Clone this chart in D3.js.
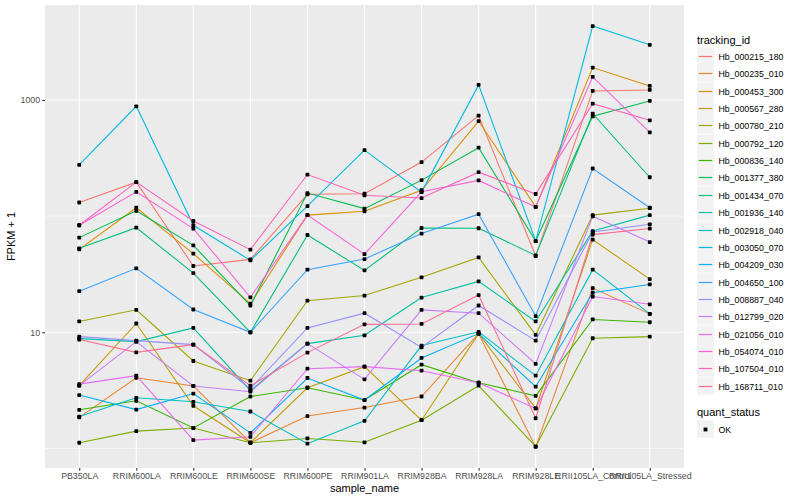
<!DOCTYPE html>
<html lang="en">
<head>
<meta charset="UTF-8">
<title>FPKM + 1 by sample</title>
<script src="https://d3js.org/d3.v7.min.js"></script>
<style>
  body { margin: 0; background: #fff; }
  svg { display: block; font-family: 'Liberation Sans', Arial, sans-serif; }
  .axis text { font-size: 8.8px; fill: #4d4d4d; }
  .axis line { stroke: #333; stroke-width: 1.07; }
  .axis path { display: none; }
  .axis-title { font-size: 11px; fill: #000; }
  .legend-title { font-size: 11px; fill: #000; }
  .legend-label { font-size: 8.8px; fill: #000; }
  .series { fill: none; stroke-width: 1.07; }
</style>
</head>
<body>
<svg width="800" height="500"></svg>
<script>
const samples = ["PB350LA", "RRIM600LA", "RRIM600LE", "RRIM600SE", "RRIM600PE", "RRIM901LA",
  "RRIM928BA", "RRIM928LA", "RRIM928LE", "RRII105LA_Control", "RRII105LA_Stressed"];

const trackingIds = ["Hb_000215_180", "Hb_000235_010", "Hb_000453_300", "Hb_000567_280", "Hb_000780_210",
  "Hb_000792_120", "Hb_000836_140", "Hb_001377_380", "Hb_001434_070", "Hb_001936_140",
  "Hb_002918_040", "Hb_003050_070", "Hb_004209_030", "Hb_004650_100", "Hb_008887_040",
  "Hb_012799_020", "Hb_021056_010", "Hb_054074_010", "Hb_107504_010", "Hb_168711_010"];

// FPKM + 1, one value per sample
const hb000215_180 = [131, 196, 37.2, 42.4, 154, 156, 292, 732, 45.3, 1196, 1220];
const hb000235_010 = [1.85, 4.06, 3.45, 1.12, 1.90, 2.25, 2.80, 9.74, 1.03, 24.0, 14.4];
const hb000453_300 = [51.7, 118, 47.5, 17.6, 102, 110, 167, 658, 120, 1900, 1321];
const hb000567_280 = [3.47, 11.9, 2.33, 1.12, 3.33, 5.06, 1.75, 9.74, 2.21, 62.7, 28.7];
const hb000780_210 = [12.4, 15.6, 5.66, 3.83, 18.7, 20.7, 29.7, 44.1, 9.49, 102, 117];
const hb000792_120 = [1.12, 1.41, 1.50, 1.12, 1.22, 1.13, 1.75, 3.47, 1.04, 8.88, 9.18];
const hb000836_140 = [2.15, 2.57, 1.50, 2.80, 3.33, 2.61, 5.26, 3.68, 2.84, 12.9, 12.2];
const hb001377_380 = [65.3, 111, 56.0, 17.0, 158, 116, 204, 388, 61.0, 723, 980];
const hb001434_070 = [52.8, 79.6, 32.3, 10.0, 68.8, 34.1, 79.0, 78.6, 45.9, 762, 216];
const hb001936_140 = [8.82, 8.31, 10.9, 3.14, 7.99, 9.42, 19.9, 27.4, 12.4, 74.4, 102];
const hb002918_040 = [1.88, 2.73, 2.52, 2.08, 1.10, 1.73, 7.68, 10.1, 4.23, 34.6, 14.4];
const hb003050_070 = [276, 882, 83.4, 41.6, 122, 370, 161, 1348, 61.0, 4327, 2984];
const hb004209_030 = [2.88, 2.16, 2.97, 1.36, 4.04, 2.61, 6.01, 9.74, 3.40, 21.9, 25.8];
const hb004650_100 = [22.6, 35.5, 15.7, 10.0, 34.6, 42.7, 70.7, 104, 13.8, 257, 118];
const hb008887_040 = [9.18, 8.48, 7.83, 3.27, 10.9, 14.6, 7.42, 17.0, 8.48, 73.0, 85.0];
const hb012799_020 = [3.47, 8.31, 3.45, 3.08, 7.99, 3.93, 15.6, 14.6, 5.34, 99.7, 59.8];
const hb021056_010 = [3.58, 4.23, 1.18, 1.26, 4.86, 5.06, 4.67, 3.68, 2.21, 20.3, 17.4];
const hb054074_010 = [83.4, 162, 78.1, 20.0, 102, 47.1, 162, 203, 120, 1579, 526];
const hb107504_010 = [83.4, 196, 90.8, 51.4, 228, 151, 143, 239, 155, 929, 668];
const hb168711_010 = [8.65, 6.72, 7.83, 3.47, 6.68, 11.7, 11.8, 20.9, 1.82, 69.3, 78.1];

const seriesValues = [hb000215_180, hb000235_010, hb000453_300, hb000567_280, hb000780_210,
  hb000792_120, hb000836_140, hb001377_380, hb001434_070, hb001936_140,
  hb002918_040, hb003050_070, hb004209_030, hb004650_100, hb008887_040,
  hb012799_020, hb021056_010, hb054074_010, hb107504_010, hb168711_010];

const yMajor = [10, 1000];
const yMinor = [1, 100, 10000];
const quantStatus = ["OK"];

// ggplot default hue palette for 20 levels
const palette = ["#F8766D", "#EA8331", "#D89000", "#C09B00", "#A3A500", "#7CAE00", "#39B600",
  "#00BB4E", "#00BF7D", "#00C1A3", "#00BFC4", "#00BAE0", "#00B0F6", "#35A2FF", "#9590FF",
  "#C77CFF", "#E76BF3", "#FA62DB", "#FF62BC", "#FF6C91"];

const panel = { left: 45, right: 684, top: 5, bottom: 468 };
const svg = d3.select("svg");

const series = trackingIds.map((id, i) => ({
  id: id,
  color: palette[i],
  points: samples.map((s, j) => ({ sample: s, value: seriesValues[i][j] }))
}));

const allVals = seriesValues.flat();
const lmin = Math.log10(d3.min(allVals)), lmax = Math.log10(d3.max(allVals));
const pad = (lmax - lmin) * 0.05;

const x = d3.scalePoint().domain(samples).range([panel.left, panel.right]).padding(0.6);
const y = d3.scaleLog().domain([Math.pow(10, lmin - pad), Math.pow(10, lmax + pad)])
  .range([panel.bottom, panel.top]);

// panel background and grid
svg.append("rect")
  .attr("x", panel.left).attr("y", panel.top)
  .attr("width", panel.right - panel.left).attr("height", panel.bottom - panel.top)
  .attr("fill", "#EBEBEB");

const grid = svg.append("g");
grid.selectAll(".minor").data(yMinor.filter(v => y(v) > panel.top && y(v) < panel.bottom))
  .enter().append("line")
  .attr("x1", panel.left).attr("x2", panel.right)
  .attr("y1", d => y(d)).attr("y2", d => y(d))
  .attr("stroke", "#fff").attr("stroke-width", 0.53);
grid.selectAll(".major").data(yMajor)
  .enter().append("line")
  .attr("x1", panel.left).attr("x2", panel.right)
  .attr("y1", d => y(d)).attr("y2", d => y(d))
  .attr("stroke", "#fff").attr("stroke-width", 1.07);
grid.selectAll(".vmajor").data(samples)
  .enter().append("line")
  .attr("x1", d => x(d)).attr("x2", d => x(d))
  .attr("y1", panel.top).attr("y2", panel.bottom)
  .attr("stroke", "#fff").attr("stroke-width", 1.07);

// lines
const line = d3.line().x(d => x(d.sample)).y(d => y(d.value));
svg.append("g").selectAll("path")
  .data(series)
  .enter().append("path")
  .attr("class", "series")
  .attr("stroke", d => d.color)
  .attr("d", d => line(d.points));

// points
svg.append("g").selectAll("rect")
  .data(series.flatMap(s => s.points))
  .enter().append("rect")
  .attr("x", d => x(d.sample) - 1.9).attr("y", d => y(d.value) - 1.9)
  .attr("width", 3.8).attr("height", 3.8).attr("rx", 0.8)
  .attr("fill", "#000");

// axes
svg.append("g").attr("class", "axis")
  .attr("transform", `translate(${panel.left},0)`)
  .call(d3.axisLeft(y).tickValues(yMajor).tickFormat(d3.format("d")).tickSize(2.75).tickPadding(2.2));
svg.append("g").attr("class", "axis")
  .attr("transform", `translate(0,${panel.bottom})`)
  .call(d3.axisBottom(x).tickSize(2.75).tickPadding(2.2));

svg.append("text").attr("class", "axis-title")
  .attr("x", (panel.left + panel.right) / 2).attr("y", 492)
  .attr("text-anchor", "middle").text("sample_name");
svg.append("text").attr("class", "axis-title")
  .attr("transform", `translate(15,${(panel.top + panel.bottom) / 2}) rotate(-90)`)
  .attr("text-anchor", "middle").text("FPKM + 1");

// legends
const lx = 697, keyH = 17.35, keyW = 17;
const legend = svg.append("g");
legend.append("text").attr("class", "legend-title")
  .attr("x", lx).attr("y", 44).text("tracking_id");
const items = legend.selectAll(".item").data(series).enter().append("g")
  .attr("transform", (d, i) => `translate(${lx},${Math.round(56 + i * keyH) - 8.5})`);
items.append("rect").attr("width", keyW).attr("height", keyH).attr("fill", "#F2F2F2");
items.append("line")
  .attr("x1", 1.7).attr("x2", keyW - 1.7)
  .attr("y1", 9).attr("y2", 9)
  .attr("stroke", d => d.color).attr("stroke-width", 1.2);
items.append("text").attr("class", "legend-label")
  .attr("x", keyW + 4.4).attr("y", 12).text(d => d.id);

legend.append("text").attr("class", "legend-title")
  .attr("x", lx).attr("y", 416).text("quant_status");
const ok = legend.selectAll(".ok").data(quantStatus).enter().append("g")
  .attr("transform", (d, i) => `translate(${lx},${Math.round(429.3 + i * keyH) - 8.5})`);
ok.append("rect").attr("width", keyW).attr("height", keyH).attr("fill", "#F2F2F2");
ok.append("rect").attr("x", keyW / 2 - 1.9).attr("y", 9 - 1.9)
  .attr("width", 3.8).attr("height", 3.8).attr("fill", "#000");
ok.append("text").attr("class", "legend-label")
  .attr("x", keyW + 4.4).attr("y", 12).text(d => d);
</script>
</body>
</html>
